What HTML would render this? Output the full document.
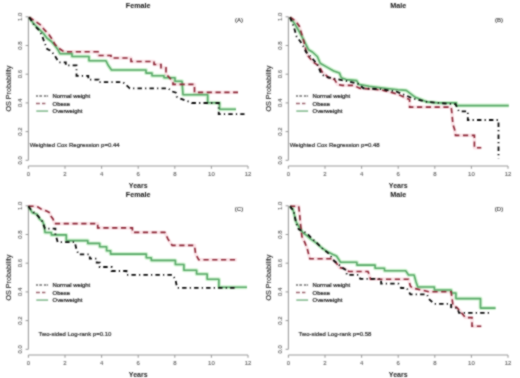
<!DOCTYPE html>
<html><head><meta charset="utf-8"><title>OS Probability</title>
<style>
html,body{margin:0;padding:0;background:#fff;}
body{width:520px;height:378px;overflow:hidden;}
svg{display:block;font-family:"Liberation Sans",sans-serif;}
</style></head>
<body>
<svg width="520" height="378" viewBox="0 0 520 378">
<defs><filter id="soft" x="0" y="0" width="100%" height="100%" color-interpolation-filters="sRGB"><feConvolveMatrix order="3" kernelMatrix="1 2 1 2 8 2 1 2 1" divisor="20" edgeMode="duplicate"/></filter></defs>
<g filter="url(#soft)">
<rect width="520" height="378" fill="#fff"/>
<g transform="translate(0,0)">
<g stroke="#9a9a9a" stroke-width="1.05" fill="none">
<path d="M28.4,16.8V160.3"/>
<path d="M25.6,160.3H28.4"/>
<path d="M25.6,131.6H28.4"/>
<path d="M25.6,102.9H28.4"/>
<path d="M25.6,74.2H28.4"/>
<path d="M25.6,45.5H28.4"/>
<path d="M25.6,16.8H28.4"/>
<path d="M28.4,166H248"/>
<path d="M28.4,166V168.8"/>
<path d="M65,166V168.8"/>
<path d="M101.6,166V168.8"/>
<path d="M138.2,166V168.8"/>
<path d="M174.8,166V168.8"/>
<path d="M211.4,166V168.8"/>
<path d="M248,166V168.8"/>
</g>
<g font-size="6.0" fill="#5a5a5a" stroke="#5a5a5a" stroke-width="0.1" text-anchor="middle">
<text x="28.4" y="176">0</text>
<text x="65" y="176">2</text>
<text x="101.6" y="176">4</text>
<text x="138.2" y="176">6</text>
<text x="174.8" y="176">8</text>
<text x="211.4" y="176">10</text>
<text x="248" y="176">12</text>
<text transform="translate(21.5,160.3) rotate(-90)">0.0</text>
<text transform="translate(21.5,131.6) rotate(-90)">0.2</text>
<text transform="translate(21.5,102.9) rotate(-90)">0.4</text>
<text transform="translate(21.5,74.2) rotate(-90)">0.6</text>
<text transform="translate(21.5,45.5) rotate(-90)">0.8</text>
<text transform="translate(21.5,16.8) rotate(-90)">1.0</text>
</g>
<text x="138.2" y="188" font-size="7" font-weight="bold" text-anchor="middle" fill="#222">Years</text>
<text transform="translate(11.1,88.6) rotate(-90)" font-size="7.2" text-anchor="middle" fill="#222" stroke="#222" stroke-width="0.12">OS Probability</text>
<text x="138.2" y="8.4" font-size="7.2" font-weight="bold" text-anchor="middle" fill="#111">Female</text>
<text x="239" y="22.1" font-size="6" text-anchor="middle" fill="#222" stroke="#222" stroke-width="0.08">(A)</text>
<text x="29.8" y="147" font-size="6" fill="#2a2a2a" stroke="#2a2a2a" stroke-width="0.2">Weighted Cox Regression p=0.44</text>
<g font-size="5.9" fill="#222" stroke="#222" stroke-width="0.22">
<path d="M36,96H48.1" stroke="#5a5a5a" stroke-width="1.5" stroke-dasharray="2,1.3,2.7,1.9,2.4,0.6,1.2" opacity="0.85"/>
<path d="M36,103.5H45.4" stroke="#8a4a55" stroke-width="1.5" stroke-dasharray="3.9,2.1,3.4" opacity="0.85"/>
<path d="M36.3,111.1H48.1" stroke="#94c49e" stroke-width="1.8"/>
<text x="52.6" y="97.9">Normal weight</text>
<text x="52.6" y="105.6">Obese</text>
<text x="52.6" y="113.2">Overweight</text>
</g>
</g>
<path d="M29.2,17.2 L33.4,23.5 L38.7,28.8 L43.5,33.6 L47.2,38.4 L51.4,41.5 L55.1,45.8 L57.8,49.5 L60,53.7 H72 V56.5 H89 V60.8 H106 L108,65 L111.5,70 H146 V73.1 H152 V75.8 H164 V77.7 H175 V81.2 H182 L183,94.7 H207.7 V102.7 H219.5 V109.2 H236" fill="none" stroke="#d2f4d2" stroke-width="4" stroke-linejoin="round" style="mix-blend-mode:multiply"/>
<path d="M29.2,17.2 L35.5,21.4 L40.8,25.1 L44.5,29.9 L48.2,33.6 L52,38.9 L55.1,44.7 L59.9,49 L64.1,51.8 H98 V55.5 H111 V58 H131 V61.5 H154 V64.5 H161 V67.8 H166 V73.8 L173,81.7 V84.4 H194.5 V92.4 H238" fill="none" stroke="#fbe4e8" stroke-width="3.4" stroke-linejoin="round" style="mix-blend-mode:multiply"/>
<path d="M29.2,17.2 L33.4,23.5 L38.7,28.8 L43.5,33.6 L47.2,38.4 L51.4,41.5 L55.1,45.8 L57.8,49.5 L60,53.7 H72 V56.5 H89 V60.8 H106 L108,65 L111.5,70 H146 V73.1 H152 V75.8 H164 V77.7 H175 V81.2 H182 L183,94.7 H207.7 V102.7 H219.5 V109.2 H236" fill="none" stroke="#58a868" stroke-width="1.6" stroke-linejoin="round"/>
<path d="M29.2,17.2 L35.5,21.4 L40.8,25.1 L44.5,29.9 L48.2,33.6 L52,38.9 L55.1,44.7 L59.9,49 L64.1,51.8 H98 V55.5 H111 V58 H131 V61.5 H154 V64.5 H161 V67.8 H166 V73.8 L173,81.7 V84.4 H194.5 V92.4 H238" fill="none" stroke="#8a2434" stroke-width="1.6" stroke-dasharray="5.2,3.6"/>
<path d="M29.2,17.2 L34.5,25.6 L38.7,29.9 L41.9,35.2 L44.5,42.6 L47.2,49 L51.4,51.1 L55,56 L58.8,62.3 H65.8 V65.4 H76.5 V75.8 H88.3 V79.6 H98.6 V82.2 H123 L129.8,88.3 H168.3 L171.1,91.1 L175.9,92.7 L176.7,96.7 L180.6,98.7 L184.6,100.2 L189.4,101.8 L191.7,103 H218.7 V114.2 H244.5" fill="none" stroke="#0a0a0a" stroke-width="1.8" stroke-dasharray="4.4,3.2,1.2,3.2"/>
<g transform="translate(260,0)">
<g stroke="#9a9a9a" stroke-width="1.05" fill="none">
<path d="M28.4,16.8V160.3"/>
<path d="M25.6,160.3H28.4"/>
<path d="M25.6,131.6H28.4"/>
<path d="M25.6,102.9H28.4"/>
<path d="M25.6,74.2H28.4"/>
<path d="M25.6,45.5H28.4"/>
<path d="M25.6,16.8H28.4"/>
<path d="M28.4,166H248"/>
<path d="M28.4,166V168.8"/>
<path d="M65,166V168.8"/>
<path d="M101.6,166V168.8"/>
<path d="M138.2,166V168.8"/>
<path d="M174.8,166V168.8"/>
<path d="M211.4,166V168.8"/>
<path d="M248,166V168.8"/>
</g>
<g font-size="6.0" fill="#5a5a5a" stroke="#5a5a5a" stroke-width="0.1" text-anchor="middle">
<text x="28.4" y="176">0</text>
<text x="65" y="176">2</text>
<text x="101.6" y="176">4</text>
<text x="138.2" y="176">6</text>
<text x="174.8" y="176">8</text>
<text x="211.4" y="176">10</text>
<text x="248" y="176">12</text>
<text transform="translate(21.5,160.3) rotate(-90)">0.0</text>
<text transform="translate(21.5,131.6) rotate(-90)">0.2</text>
<text transform="translate(21.5,102.9) rotate(-90)">0.4</text>
<text transform="translate(21.5,74.2) rotate(-90)">0.6</text>
<text transform="translate(21.5,45.5) rotate(-90)">0.8</text>
<text transform="translate(21.5,16.8) rotate(-90)">1.0</text>
</g>
<text x="138.2" y="188" font-size="7" font-weight="bold" text-anchor="middle" fill="#222">Years</text>
<text transform="translate(11.1,88.6) rotate(-90)" font-size="7.2" text-anchor="middle" fill="#222" stroke="#222" stroke-width="0.12">OS Probability</text>
<text x="138.2" y="8.4" font-size="7.2" font-weight="bold" text-anchor="middle" fill="#111">Male</text>
<text x="239" y="22.1" font-size="6" text-anchor="middle" fill="#222" stroke="#222" stroke-width="0.08">(B)</text>
<text x="29.8" y="147" font-size="6" fill="#2a2a2a" stroke="#2a2a2a" stroke-width="0.2">Weighted Cox Regression p=0.48</text>
<g font-size="5.9" fill="#222" stroke="#222" stroke-width="0.22">
<path d="M36,96H48.1" stroke="#5a5a5a" stroke-width="1.5" stroke-dasharray="2,1.3,2.7,1.9,2.4,0.6,1.2" opacity="0.85"/>
<path d="M36,103.5H45.4" stroke="#8a4a55" stroke-width="1.5" stroke-dasharray="3.9,2.1,3.4" opacity="0.85"/>
<path d="M36.3,111.1H48.1" stroke="#94c49e" stroke-width="1.8"/>
<text x="52.6" y="97.9">Normal weight</text>
<text x="52.6" y="105.6">Obese</text>
<text x="52.6" y="113.2">Overweight</text>
</g>
</g>
<path d="M290,17.3 L295.2,24.6 L300.5,33.8 L304.5,41.7 L308.5,49.7 L312.4,52 L317.3,56.5 L320.2,63.3 L326.9,67.1 L333.7,71 L339.4,72.9 L341.3,77.7 L346.2,79.6 L356.7,80.6 L358.7,84.4 L369.2,86.3 L384.6,88.3 L398,89.8 L406.2,90.4 L415.4,97.3 L427,101.9 L438.5,102.9 H456.4 V105.6 H508.8" fill="none" stroke="#d2f4d2" stroke-width="4" stroke-linejoin="round" style="mix-blend-mode:multiply"/>
<path d="M290,17.3 L295.2,20.6 L299.2,25.9 L302,35 L304,42 L305.8,49.7 L307.7,55.6 L313.5,62.3 L319.2,66.2 L322.1,71.9 L328.8,77.7 L334.6,79.6 L337.5,84.4 L342.3,85.4 H353.8 L359.6,88.3 L373.1,89.2 L382.7,90.2 L396.9,93.9 L409.6,99.6 V107.1 H451.2 L452,113.9 L452.9,124.3 L454.6,129.4 L455.5,135.4 H474.4 V147.8 H481.3" fill="none" stroke="#fbe4e8" stroke-width="3.4" stroke-linejoin="round" style="mix-blend-mode:multiply"/>
<path d="M290,17.3 L295.2,24.6 L300.5,33.8 L304.5,41.7 L308.5,49.7 L312.4,52 L317.3,56.5 L320.2,63.3 L326.9,67.1 L333.7,71 L339.4,72.9 L341.3,77.7 L346.2,79.6 L356.7,80.6 L358.7,84.4 L369.2,86.3 L384.6,88.3 L398,89.8 L406.2,90.4 L415.4,97.3 L427,101.9 L438.5,102.9 H456.4 V105.6 H508.8" fill="none" stroke="#58a868" stroke-width="1.6" stroke-linejoin="round"/>
<path d="M290,17.3 L295.2,20.6 L299.2,25.9 L302,35 L304,42 L305.8,49.7 L307.7,55.6 L313.5,62.3 L319.2,66.2 L322.1,71.9 L328.8,77.7 L334.6,79.6 L337.5,84.4 L342.3,85.4 H353.8 L359.6,88.3 L373.1,89.2 L382.7,90.2 L396.9,93.9 L409.6,99.6 V107.1 H451.2 L452,113.9 L452.9,124.3 L454.6,129.4 L455.5,135.4 H474.4 V147.8 H481.3" fill="none" stroke="#8a2434" stroke-width="1.6" stroke-dasharray="5.2,3.6"/>
<path d="M290,17.3 L293.9,27.2 L296.6,36.5 L300.5,41.7 L304.5,48.3 L305.8,51.7 L310.6,56.5 L317.3,64.2 L321.2,73.8 L325,76.7 L334.6,78.7 L344.2,80.6 L357.7,83.5 L363.5,88.3 L380.8,89.2 L396.2,91.5 L413.1,98.5 L427,101.9 L445,103.5 L455.5,104.2 L458.9,111.3 H467.8 V120 H498.5 V158.8" fill="none" stroke="#0a0a0a" stroke-width="1.8" stroke-dasharray="4.4,3.2,1.2,3.2"/>
<g transform="translate(0,189)">
<g stroke="#9a9a9a" stroke-width="1.05" fill="none">
<path d="M28.4,16.8V160.3"/>
<path d="M25.6,160.3H28.4"/>
<path d="M25.6,131.6H28.4"/>
<path d="M25.6,102.9H28.4"/>
<path d="M25.6,74.2H28.4"/>
<path d="M25.6,45.5H28.4"/>
<path d="M25.6,16.8H28.4"/>
<path d="M28.4,166H248"/>
<path d="M28.4,166V168.8"/>
<path d="M65,166V168.8"/>
<path d="M101.6,166V168.8"/>
<path d="M138.2,166V168.8"/>
<path d="M174.8,166V168.8"/>
<path d="M211.4,166V168.8"/>
<path d="M248,166V168.8"/>
</g>
<g font-size="6.0" fill="#5a5a5a" stroke="#5a5a5a" stroke-width="0.1" text-anchor="middle">
<text x="28.4" y="176">0</text>
<text x="65" y="176">2</text>
<text x="101.6" y="176">4</text>
<text x="138.2" y="176">6</text>
<text x="174.8" y="176">8</text>
<text x="211.4" y="176">10</text>
<text x="248" y="176">12</text>
<text transform="translate(21.5,160.3) rotate(-90)">0.0</text>
<text transform="translate(21.5,131.6) rotate(-90)">0.2</text>
<text transform="translate(21.5,102.9) rotate(-90)">0.4</text>
<text transform="translate(21.5,74.2) rotate(-90)">0.6</text>
<text transform="translate(21.5,45.5) rotate(-90)">0.8</text>
<text transform="translate(21.5,16.8) rotate(-90)">1.0</text>
</g>
<text x="138.2" y="188" font-size="7" font-weight="bold" text-anchor="middle" fill="#222">Years</text>
<text transform="translate(11.1,88.6) rotate(-90)" font-size="7.2" text-anchor="middle" fill="#222" stroke="#222" stroke-width="0.12">OS Probability</text>
<text x="138.2" y="8.4" font-size="7.2" font-weight="bold" text-anchor="middle" fill="#111">Female</text>
<text x="239" y="22.1" font-size="6" text-anchor="middle" fill="#222" stroke="#222" stroke-width="0.08">(C)</text>
<text x="38.5" y="147" font-size="6" fill="#2a2a2a" stroke="#2a2a2a" stroke-width="0.2">Two-sided Log-rank p=0.10</text>
<g font-size="5.9" fill="#222" stroke="#222" stroke-width="0.22">
<path d="M36,96H48.1" stroke="#5a5a5a" stroke-width="1.5" stroke-dasharray="2,1.3,2.7,1.9,2.4,0.6,1.2" opacity="0.85"/>
<path d="M36,103.5H45.4" stroke="#8a4a55" stroke-width="1.5" stroke-dasharray="3.9,2.1,3.4" opacity="0.85"/>
<path d="M36.3,111.1H48.1" stroke="#94c49e" stroke-width="1.8"/>
<text x="52.6" y="97.9">Normal weight</text>
<text x="52.6" y="105.6">Obese</text>
<text x="52.6" y="113.2">Overweight</text>
</g>
</g>
<path d="M28.4,206.3 L32.3,212.7 L37.1,214.3 L39.5,219 L42.7,221.4 L44.3,226.2 L45,232.5 H51.4 V234.9 H66.3 V240.6 H87.8 V243.4 H99.7 V246.7 H106.6 V250.7 H110.6 V254.1 H146.3 V257.7 H151.3 V260.4 H175.4 V264.5 H183.9 V270.2 H196.6 V274 H207.2 V279.3 H218.9 V287.2 H247" fill="none" stroke="#d2f4d2" stroke-width="4" stroke-linejoin="round" style="mix-blend-mode:multiply"/>
<path d="M28.4,206.3 H35.5 L37.9,207.1 L41.9,209.5 L46.6,211.1 L49.8,212.7 L50.6,215.9 L53,219 L54.6,223.6 H97.7 V227.9 H132.4 V232.4 H164.8 L168,239.1 L172.2,245.4 H194.5 L195.6,253.9 L198.7,259.8 H236.9" fill="none" stroke="#fbe4e8" stroke-width="3.4" stroke-linejoin="round" style="mix-blend-mode:multiply"/>
<path d="M28.4,206.3 L32.3,212.7 L37.1,214.3 L39.5,219 L42.7,221.4 L44.3,226.2 L45,232.5 H51.4 V234.9 H66.3 V240.6 H87.8 V243.4 H99.7 V246.7 H106.6 V250.7 H110.6 V254.1 H146.3 V257.7 H151.3 V260.4 H175.4 V264.5 H183.9 V270.2 H196.6 V274 H207.2 V279.3 H218.9 V287.2 H247" fill="none" stroke="#58a868" stroke-width="1.6" stroke-linejoin="round"/>
<path d="M28.4,206.3 H35.5 L37.9,207.1 L41.9,209.5 L46.6,211.1 L49.8,212.7 L50.6,215.9 L53,219 L54.6,223.6 H97.7 V227.9 H132.4 V232.4 H164.8 L168,239.1 L172.2,245.4 H194.5 L195.6,253.9 L198.7,259.8 H236.9" fill="none" stroke="#8a2434" stroke-width="1.6" stroke-dasharray="5.2,3.6"/>
<path d="M28.4,206.3 L30.8,209.5 L32.3,211.1 L37.9,215.9 L41.9,220.6 L45,228.6 H55.4 V234.1 L57.7,242.1 H74.9 L76,247.6 L78.4,254.4 H89.8 V258.7 H96.7 V262.6 H99.7 V267 H111.6 V271 H126.5 V274.8 H172.2 L175.4,279.3 L177.1,287.8 H237" fill="none" stroke="#0a0a0a" stroke-width="1.8" stroke-dasharray="4.4,3.2,1.2,3.2"/>
<g transform="translate(260,189)">
<g stroke="#9a9a9a" stroke-width="1.05" fill="none">
<path d="M28.4,16.8V160.3"/>
<path d="M25.6,160.3H28.4"/>
<path d="M25.6,131.6H28.4"/>
<path d="M25.6,102.9H28.4"/>
<path d="M25.6,74.2H28.4"/>
<path d="M25.6,45.5H28.4"/>
<path d="M25.6,16.8H28.4"/>
<path d="M28.4,166H248"/>
<path d="M28.4,166V168.8"/>
<path d="M65,166V168.8"/>
<path d="M101.6,166V168.8"/>
<path d="M138.2,166V168.8"/>
<path d="M174.8,166V168.8"/>
<path d="M211.4,166V168.8"/>
<path d="M248,166V168.8"/>
</g>
<g font-size="6.0" fill="#5a5a5a" stroke="#5a5a5a" stroke-width="0.1" text-anchor="middle">
<text x="28.4" y="176">0</text>
<text x="65" y="176">2</text>
<text x="101.6" y="176">4</text>
<text x="138.2" y="176">6</text>
<text x="174.8" y="176">8</text>
<text x="211.4" y="176">10</text>
<text x="248" y="176">12</text>
<text transform="translate(21.5,160.3) rotate(-90)">0.0</text>
<text transform="translate(21.5,131.6) rotate(-90)">0.2</text>
<text transform="translate(21.5,102.9) rotate(-90)">0.4</text>
<text transform="translate(21.5,74.2) rotate(-90)">0.6</text>
<text transform="translate(21.5,45.5) rotate(-90)">0.8</text>
<text transform="translate(21.5,16.8) rotate(-90)">1.0</text>
</g>
<text x="138.2" y="188" font-size="7" font-weight="bold" text-anchor="middle" fill="#222">Years</text>
<text transform="translate(11.1,88.6) rotate(-90)" font-size="7.2" text-anchor="middle" fill="#222" stroke="#222" stroke-width="0.12">OS Probability</text>
<text x="138.2" y="8.4" font-size="7.2" font-weight="bold" text-anchor="middle" fill="#111">Male</text>
<text x="239" y="22.1" font-size="6" text-anchor="middle" fill="#222" stroke="#222" stroke-width="0.08">(D)</text>
<text x="38.5" y="147" font-size="6" fill="#2a2a2a" stroke="#2a2a2a" stroke-width="0.2">Two-sided Log-rank p=0.58</text>
<g font-size="5.9" fill="#222" stroke="#222" stroke-width="0.22">
<path d="M36,96H48.1" stroke="#5a5a5a" stroke-width="1.5" stroke-dasharray="2,1.3,2.7,1.9,2.4,0.6,1.2" opacity="0.85"/>
<path d="M36,103.5H45.4" stroke="#8a4a55" stroke-width="1.5" stroke-dasharray="3.9,2.1,3.4" opacity="0.85"/>
<path d="M36.3,111.1H48.1" stroke="#94c49e" stroke-width="1.8"/>
<text x="52.6" y="97.9">Normal weight</text>
<text x="52.6" y="105.6">Obese</text>
<text x="52.6" y="113.2">Overweight</text>
</g>
</g>
<path d="M290,206.3 L292.5,208.5 L294,213 L295.2,219 L296.4,222.4 L299.5,227.7 L302.7,232.5 L306.9,235.7 L311.2,239.4 L316.5,243.1 L321.8,247.8 L327.1,251.5 L333,254.5 L336.5,256 L340.5,262.3 H356.9 V265.1 H375.1 V268.2 H384.5 V270.8 H405.7 L408.5,275 H414.1 L415.9,281.5 L417.8,287 H434.4 V290 H451.1 L451.9,293 H455.9 V298.6 H480.5 V308.1 H495.6" fill="none" stroke="#d2f4d2" stroke-width="4" stroke-linejoin="round" style="mix-blend-mode:multiply"/>
<path d="M290,206.3 H298.7 L299.5,212.7 L300.3,222.2 L301.9,236.5 L305,242.9 L307.4,249.2 L309,255.6 L309.8,258.7 H331.5 L334.4,261.2 L336.7,263.5 L339.4,267.5 L344.8,268.8 L348.8,271.5 H368 L369.5,275.6 L370.5,279.3 H408.5 L410.4,286.1 L412.2,288 L428.9,291.7 H451.1 L452,298.1 L453,305.6 L456.7,307.4 L460.4,311.5 L465.4,317.6 H472 V326.3 H481.3" fill="none" stroke="#fbe4e8" stroke-width="3.4" stroke-linejoin="round" style="mix-blend-mode:multiply"/>
<path d="M290,206.3 L292.5,208.5 L294,213 L295.2,219 L296.4,222.4 L299.5,227.7 L302.7,232.5 L306.9,235.7 L311.2,239.4 L316.5,243.1 L321.8,247.8 L327.1,251.5 L333,254.5 L336.5,256 L340.5,262.3 H356.9 V265.1 H375.1 V268.2 H384.5 V270.8 H405.7 L408.5,275 H414.1 L415.9,281.5 L417.8,287 H434.4 V290 H451.1 L451.9,293 H455.9 V298.6 H480.5 V308.1 H495.6" fill="none" stroke="#58a868" stroke-width="1.6" stroke-linejoin="round"/>
<path d="M290,206.3 H298.7 L299.5,212.7 L300.3,222.2 L301.9,236.5 L305,242.9 L307.4,249.2 L309,255.6 L309.8,258.7 H331.5 L334.4,261.2 L336.7,263.5 L339.4,267.5 L344.8,268.8 L348.8,271.5 H368 L369.5,275.6 L370.5,279.3 H408.5 L410.4,286.1 L412.2,288 L428.9,291.7 H451.1 L452,298.1 L453,305.6 L456.7,307.4 L460.4,311.5 L465.4,317.6 H472 V326.3 H481.3" fill="none" stroke="#8a2434" stroke-width="1.6" stroke-dasharray="5.2,3.6"/>
<path d="M290,206.3 L291.5,208.5 L293.5,210 L294.5,215 L296.3,223.8 L298.7,229.4 L303.5,231.5 L306.6,233 L311.2,237.8 L317.5,243.6 L320.7,246.8 L323.9,250 L327.1,252.1 L329.7,254.8 L334,260.8 L338.1,264.1 L342.1,267.5 L346.2,270.2 L346.8,274.9 H358.3 L360.3,278.9 H381.1 V283.6 H398.3 L401.1,288 H406.7 L410.4,294.4 H427 L428.9,299.1 L434.4,303.9 H451.1 V307.3 L457.5,308.1 L459,312.9 H491.6" fill="none" stroke="#0a0a0a" stroke-width="1.8" stroke-dasharray="4.4,3.2,1.2,3.2"/>
</g>
</svg>
</body></html>
